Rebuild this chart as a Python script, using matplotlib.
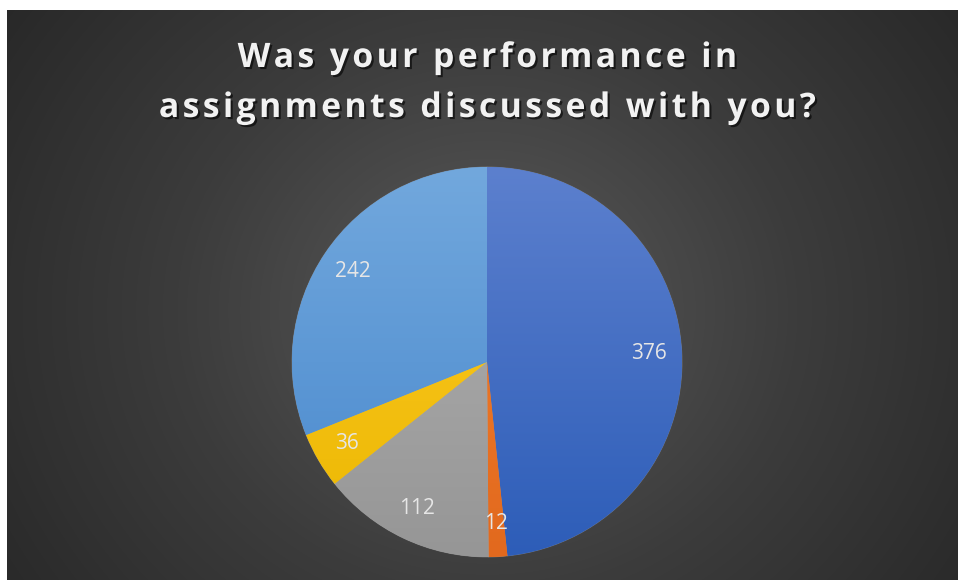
import numpy as np
import matplotlib.pyplot as plt
import matplotlib.patheffects as pe
from matplotlib.colors import LinearSegmentedColormap

# data
values = [376, 12, 112, 36, 242]
labels = ['376', '12', '112', '36', '242']
top_colors = ['#5C80CE', '#F2822E', '#B2B2B2', '#FFCB2A', '#72A8DD']
bottom_colors = ['#2D5DB8', '#E2691E', '#969696', '#EBB700', '#4888CD']
title_lines = ['Was your performance in', 'assignments discussed with you?']

W, H = 959, 580
fig = plt.figure(figsize=(W / 100, H / 100), dpi=100)
fig.patch.set_facecolor('white')

# background: dark radial gradient
bg = fig.add_axes([7 / W, 0, (958 - 7) / W, 570 / H])
bg.set_axis_off()
yy, xx = np.mgrid[0:570, 0:951]
d = np.sqrt((xx - 480) ** 2 + ((yy - 300) * 1.1) ** 2) / 620
d = np.clip(d, 0, 1)
bg_cmap = LinearSegmentedColormap.from_list('bg', ['#5a5a5a', '#3c3c3c', '#262626'])
bg.imshow(d, cmap=bg_cmap, vmin=0, vmax=1, aspect='auto', interpolation='bilinear')

# title, letters spread a little with hair spaces
shadow = [pe.withSimplePatchShadow(offset=(1.5, -1.5), shadow_rgbFace='black', alpha=0.6)]
for line, y in zip(title_lines, [58, 108]):
    spaced = '\u200a'.join(line)
    fig.text(487 / W, 1 - y / H, spaced, ha='center', va='center', fontsize=24.3,
             fontweight='bold', color='#F2F2F2', family=['Open Sans', 'DejaVu Sans'],
             path_effects=shadow)

# pie
R = 195
ax = fig.add_axes([(487 - R) / W, (H - 557) / H, 2 * R / W, 2 * R / H])
wedges, texts = ax.pie(values, labels=labels, startangle=90, counterclock=False,
                       labeldistance=0.83, radius=1,
                       wedgeprops=dict(linewidth=0.6, edgecolor=(1, 1, 1, 0.25)),
                       textprops=dict(color='#E6E6E6', fontsize=15, ha='center', va='center'))
for t in texts:
    t.set_ha('center')
    t.set_family(['Open Sans', 'DejaVu Sans'])

grad = np.linspace(0, 1, 256).reshape(-1, 1)
for w, c1, c2 in zip(wedges, top_colors, bottom_colors):
    w.set_facecolor(c2)
    cm = LinearSegmentedColormap.from_list('w', [c1, c2])
    im = ax.imshow(grad, cmap=cm, extent=(-1, 1, -1, 1), aspect='auto',
                   origin='upper', zorder=w.get_zorder() + 0.1, interpolation='bilinear')
    im.set_clip_path(w)
for t in texts:
    t.set_zorder(5)

ax.set_xlim(-1, 1)
ax.set_ylim(-1, 1)
ax.set_axis_off()

fig.savefig('out.png', dpi=100, facecolor=fig.get_facecolor())
